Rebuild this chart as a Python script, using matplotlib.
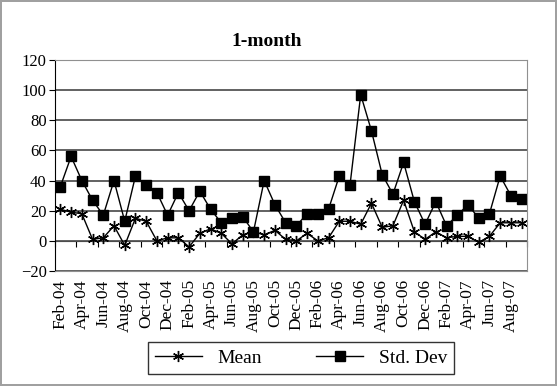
import numpy as np
import matplotlib
matplotlib.use("Agg")
import matplotlib.pyplot as plt

# months Feb-04 .. Sep-07
months = ["Feb-04", "Mar-04", "Apr-04", "May-04", "Jun-04", "Jul-04", "Aug-04", "Sep-04",
          "Oct-04", "Nov-04", "Dec-04", "Jan-05", "Feb-05", "Mar-05", "Apr-05", "May-05",
          "Jun-05", "Jul-05", "Aug-05", "Sep-05", "Oct-05", "Nov-05", "Dec-05", "Jan-06",
          "Feb-06", "Mar-06", "Apr-06", "May-06", "Jun-06", "Jul-06", "Aug-06", "Sep-06",
          "Oct-06", "Nov-06", "Dec-06", "Jan-07", "Feb-07", "Mar-07", "Apr-07", "May-07",
          "Jun-07", "Jul-07", "Aug-07", "Sep-07"]

mean = [21, 19, 18, 1, 2, 10, -3, 15, 13, 0, 2, 2, -4, 5, 8, 5, -2, 4, 6, 4, 7, 1,
        0, 5, 0, 2, 13, 13, 11, 25, 9, 10, 27, 6, 1, 6, 2, 3, 3, -1, 3, 12, 12, 12]

std_dev = [36, 56, 40, 27, 17, 40, 13, 43, 37, 32, 17, 32, 20, 33, 21, 12, 15, 16, 6,
           40, 24, 12, 10, 18, 18, 21, 43, 37, 97, 73, 44, 31, 52, 26, 11, 26, 10, 17,
           24, 15, 18, 43, 30, 28]

plt.rcParams['font.family'] = ['Liberation Serif', 'DejaVu Serif']

fig = plt.figure(figsize=(5.57, 3.86), dpi=100)
fig.patch.set_edgecolor('#a0a0a0')
fig.patch.set_linewidth(1.5)

ax = fig.add_axes([55/557, 1 - 271/386, 472/557, 211/386])
x = np.arange(len(months))

ax.plot(x, mean, color='black', lw=1, marker=(6, 2, 0), ms=8, mew=1, label='Mean')
ax.plot(x, std_dev, color='black', lw=1, marker='s', ms=7.5, label='Std. Dev')

ax.set_xlim(-0.5, len(months) - 0.5)
ax.set_ylim(-20, 120)
ax.set_yticks(np.arange(-20, 121, 20))
ax.yaxis.grid(True, color='#555555', lw=1.3)
ax.set_axisbelow(True)

ax.set_xticks(x[::2])
ax.set_xticklabels(months[::2], rotation=90)
ax.tick_params(axis='x', length=0, pad=6, labelsize=12.5)
ax.tick_params(axis='y', direction='out', length=4, labelsize=12, pad=2)

for side in ['top', 'right', 'bottom']:
    ax.spines[side].set_color('#909090')
ax.spines['left'].set_color('black')

# category axis crossing at zero
sec = ax.secondary_xaxis(20/140)
sec.set_xticks(np.arange(-0.5, len(months), 2))
sec.tick_params(direction='out', length=4, labelbottom=False)
sec.spines['bottom'].set_color('black')

fig.text(267/557, 1 - 42/386, "1-month", ha='center', va='center',
         fontsize=14, fontweight='bold')

leg = fig.legend(loc='center', bbox_to_anchor=(301/557, 1 - 358/386), ncol=2,
                 fontsize=14, frameon=True, fancybox=False, edgecolor='black',
                 handlelength=2.4, columnspacing=2.8, borderpad=0.35)
leg.get_frame().set_linewidth(1)

fig.savefig("out.png", dpi=100)
